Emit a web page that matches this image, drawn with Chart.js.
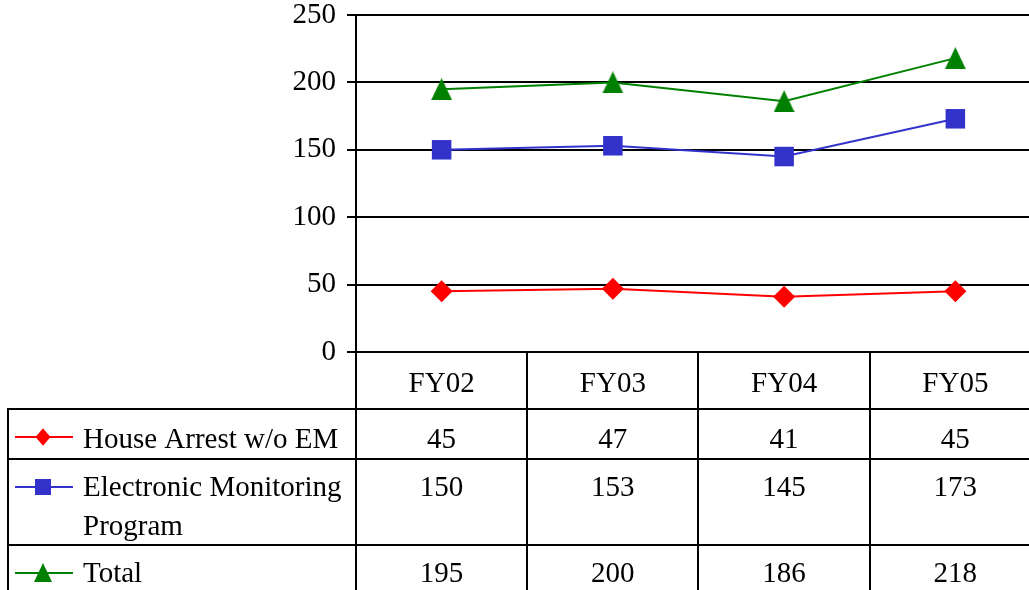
<!DOCTYPE html>
<html>
<head>
<meta charset="utf-8">
<script src="https://cdn.jsdelivr.net/npm/chart.js@4/dist/chart.umd.min.js"></script>
<style>
html,body{margin:0;padding:0;background:#fff;overflow:hidden;}
#wrap{position:relative;width:1029px;height:590px;}
canvas{display:block;}
</style>
</head>
<body>
<div id="wrap"><canvas id="c" width="1029" height="590" style="width:1029px;height:590px"></canvas></div>
<script>
const categories = ['FY02', 'FY03', 'FY04', 'FY05'];
const houseArrest = [45, 47, 41, 45];
const electronicMonitoring = [150, 153, 145, 173];
const total = [195, 200, 186, 218];
const seriesNames = [['House Arrest w/o EM'], ['Electronic Monitoring', 'Program'], ['Total']];
const yTicks = [0, 50, 100, 150, 200, 250];

const FAMILY = '"Liberation Serif", "Times New Roman", serif';
const FONT = '29px ' + FAMILY;
const RED = '#FF0000', BLUE = '#3333CC', GREEN = '#008000';

const toPoints = arr => arr.map((v, i) => ({ x: i, y: v }));

function triCanvas(w, h, color) {
  const c = document.createElement('canvas');
  c.width = w; c.height = h;
  const g = c.getContext('2d');
  g.fillStyle = color;
  g.beginPath(); g.moveTo(w / 2, 0); g.lineTo(w, h); g.lineTo(0, h); g.closePath(); g.fill();
  return c;
}
const triImg = triCanvas(21, 22, GREEN);

const tablePlugin = {
  id: 'dataTable',
  afterDraw(chart) {
    const ctx = chart.ctx;
    const xs = chart.scales.x;
    const ca = chart.chartArea;
    const rows = [409, 459, 545];
    const bottom = chart.height;
    ctx.save();
    ctx.strokeStyle = '#000';
    ctx.lineWidth = 2;
    const vx = [ca.left];
    for (let i = 0; i < categories.length; i++) vx.push(Math.round(xs.getPixelForValue(i + 0.5)));
    ctx.beginPath();
    vx.forEach(x => { ctx.moveTo(x, ca.bottom); ctx.lineTo(x, bottom); });
    ctx.moveTo(8, rows[0]); ctx.lineTo(8, bottom);
    rows.forEach(y => { ctx.moveTo(7, y); ctx.lineTo(chart.width, y); });
    ctx.stroke();

    ctx.fillStyle = '#000';
    ctx.font = FONT;
    ctx.textBaseline = 'alphabetic';
    ctx.textAlign = 'center';
    categories.forEach((c, i) => ctx.fillText(c, xs.getPixelForValue(i), 392));

    const data = [houseArrest, electronicMonitoring, total];
    const rowBase = [448, 496, 582];
    data.forEach((arr, r) => {
      ctx.textAlign = 'center';
      arr.forEach((v, i) => ctx.fillText(String(v), xs.getPixelForValue(i), rowBase[r]));
      ctx.textAlign = 'left';
      seriesNames[r].forEach((t, k) => ctx.fillText(t, 83, rowBase[r] + k * 38.5));
    });

    const colors = [RED, BLUE, GREEN];
    const keyY = [437, 487, 573];
    ctx.lineWidth = 2;
    colors.forEach((col, r) => {
      ctx.strokeStyle = col;
      ctx.beginPath(); ctx.moveTo(15, keyY[r]); ctx.lineTo(73, keyY[r]); ctx.stroke();
    });
    const cx = 43;
    ctx.fillStyle = RED;
    ctx.beginPath();
    ctx.moveTo(cx, keyY[0] - 8.7); ctx.lineTo(cx + 7.5, keyY[0]); ctx.lineTo(cx, keyY[0] + 8.7); ctx.lineTo(cx - 7.5, keyY[0]);
    ctx.closePath(); ctx.fill();
    ctx.fillStyle = BLUE;
    ctx.fillRect(cx - 8, keyY[1] - 8, 16, 16);
    ctx.fillStyle = GREEN;
    ctx.beginPath();
    ctx.moveTo(cx, keyY[2] - 10); ctx.lineTo(cx + 9, keyY[2] + 9); ctx.lineTo(cx - 9, keyY[2] + 9);
    ctx.closePath(); ctx.fill();
    ctx.restore();
  }
};

new Chart(document.getElementById('c'), {
  type: 'line',
  data: {
    datasets: [
      { label: 'House Arrest w/o EM', data: toPoints(houseArrest), borderColor: RED, backgroundColor: RED,
        borderWidth: 2, pointStyle: 'rectRot', pointRadius: 11, pointBorderWidth: 0, tension: 0 },
      { label: 'Electronic Monitoring Program', data: toPoints(electronicMonitoring), borderColor: BLUE, backgroundColor: BLUE,
        borderWidth: 2, pointStyle: 'rect', pointRadius: 13.8, pointBorderWidth: 0, tension: 0 },
      { label: 'Total', data: toPoints(total), borderColor: GREEN, backgroundColor: GREEN,
        borderWidth: 2, pointStyle: triImg, pointRadius: 11, pointBorderWidth: 0, tension: 0 }
    ]
  },
  options: {
    responsive: false,
    devicePixelRatio: 1,
    animation: false,
    events: [],
    layout: { autoPadding: false, padding: { top: 15, left: 0, right: 0, bottom: 0 } },
    plugins: { legend: { display: false }, tooltip: { enabled: false } },
    scales: {
      x: {
        type: 'linear',
        min: -0.5, max: 3.43,
        grid: { display: false },
        border: { display: false },
        ticks: { display: false },
        afterFit(s) { s.height = 238; s.paddingLeft = 0; s.paddingRight = 0; }
      },
      y: {
        min: 0, max: 250,
        afterBuildTicks(s) { s.ticks = yTicks.map(v => ({ value: v })); },
        grid: { color: '#000', lineWidth: 2, tickLength: 9, drawTicks: true },
        border: { display: true, color: '#000', width: 2 },
        ticks: { color: '#000', padding: 11, font: { family: FAMILY, size: 29 } },
        afterFit(s) { s.width = 356; s.paddingTop = 0; s.paddingBottom = 0; }
      }
    }
  },
  plugins: [tablePlugin]
});
</script>
</body>
</html>
